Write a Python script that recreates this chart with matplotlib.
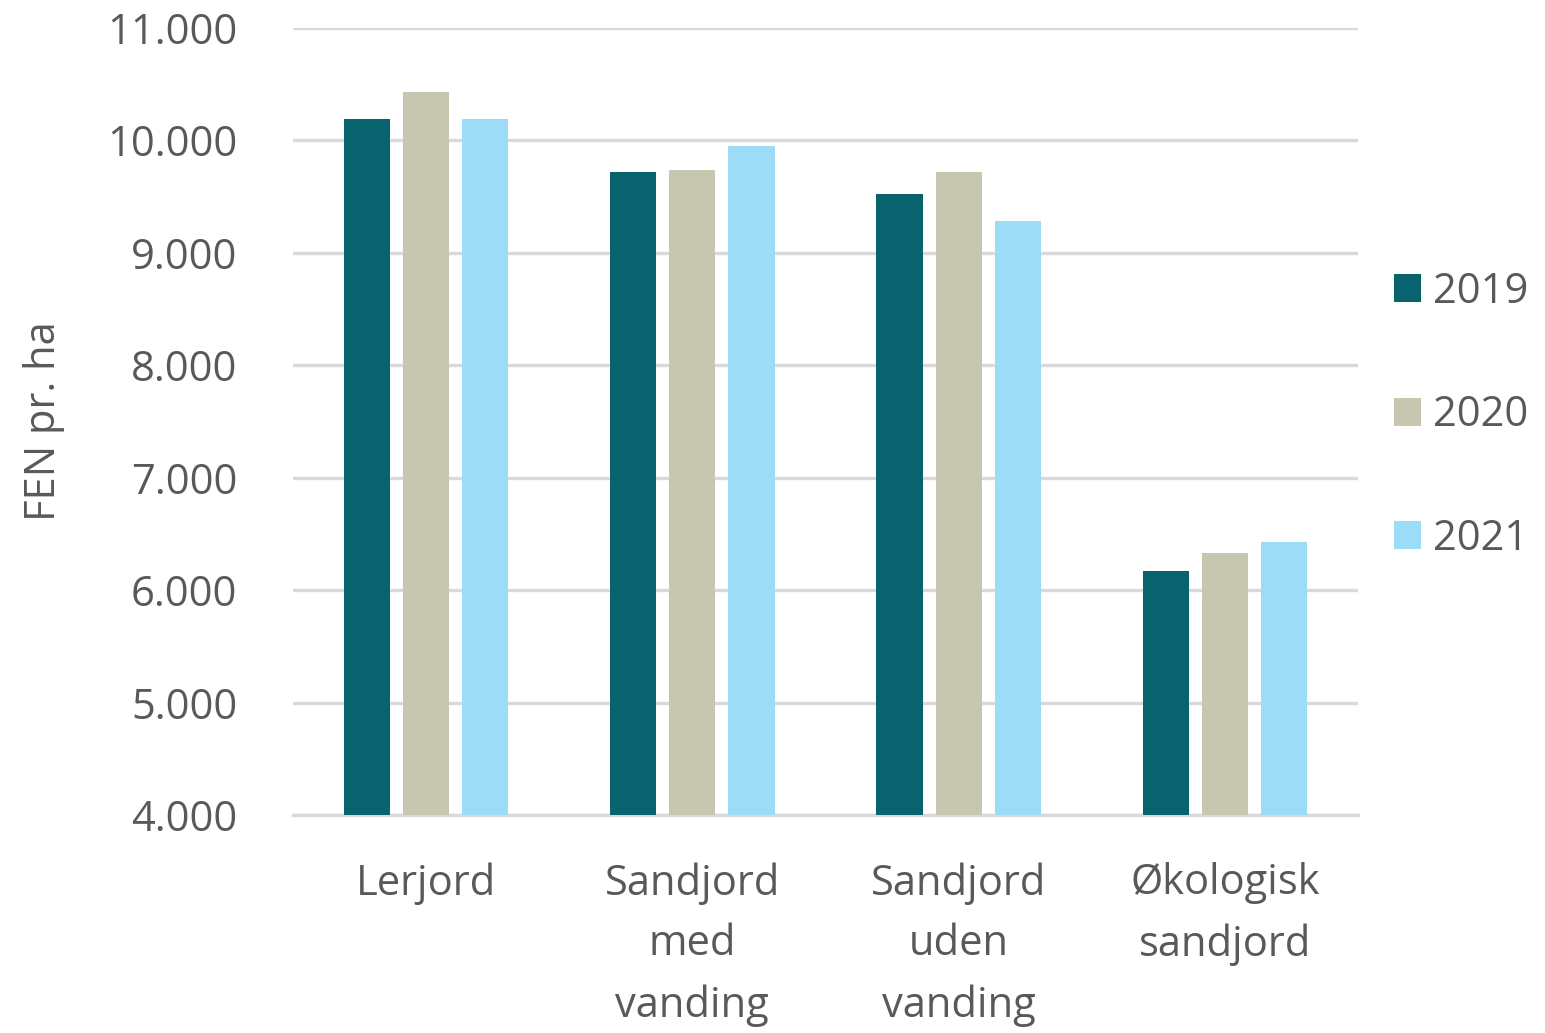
import matplotlib.pyplot as plt
import matplotlib.ticker as mticker
from matplotlib.patches import Patch
import numpy as np

plt.rcParams['font.family'] = ['Open Sans', 'DejaVu Sans']

categories = ['Lerjord', 'Sandjord\nmed\nvanding', 'Sandjord\nuden\nvanding', 'Økologisk\nsandjord']
years = ['2019', '2020', '2021']
v2019 = [10190, 9720, 9520, 6170]
v2020 = [10430, 9740, 9720, 6335]
v2021 = [10190, 9950, 9280, 6430]
colors = ['#08636F', '#C7C7B1', '#9DDCF7']

txt = '#595959'
grid = '#D9D9D9'

fig = plt.figure(figsize=(15.45, 10.33), dpi=100)
ax = fig.add_axes([0.1896, 0.211, 0.879 - 0.1896, 0.9729 - 0.211])

x = np.arange(len(categories))
w = 0.173
step = 0.222
for i, vals in enumerate([v2019, v2020, v2021]):
    ax.bar(x + (i - 1) * step, vals, width=w, color=colors[i], zorder=3)

ax.set_xlim(-0.5, 3.5)
ax.set_ylim(4000, 11000)
ax.set_yticks(range(4000, 11001, 1000))
ax.yaxis.set_major_formatter(mticker.FuncFormatter(lambda v, p: f'{int(v):,}'.replace(',', '.')))
ax.grid(axis='y', color=grid, lw=2.4, zorder=0)
for s in ['top', 'right', 'left']:
    ax.spines[s].set_visible(False)
ax.spines['bottom'].set_color(grid)
ax.spines['bottom'].set_linewidth(2.4)

ax.set_xticks(x)
ax.set_xticklabels(categories, linespacing=1.58)
ax.tick_params(axis='both', length=0, labelsize=30, labelcolor=txt)
ax.tick_params(axis='x', pad=34)
ax.tick_params(axis='y', pad=40)

ax.set_ylabel('FEN pr. ha', fontsize=30, color=txt, labelpad=30)

handles = [Patch(facecolor=c, label=y) for c, y in zip(colors, years)]
fig.legend(handles=handles, loc='center left', bbox_to_anchor=(0.902, 0.598), frameon=False,
           fontsize=30, labelcolor=txt, handlelength=0.65, handleheight=0.65,
           handletextpad=0.3, labelspacing=1.95, borderaxespad=0, borderpad=0)

fig.savefig('out.png', dpi=100)
